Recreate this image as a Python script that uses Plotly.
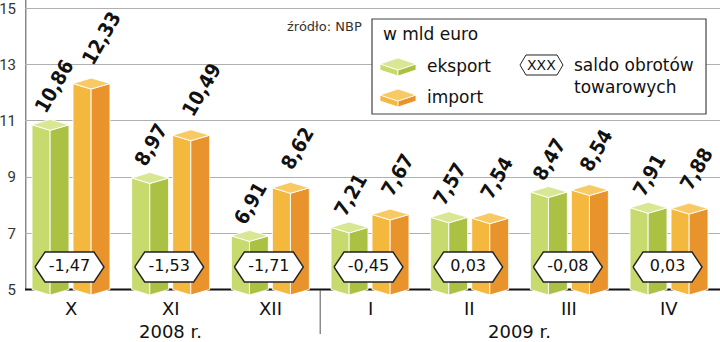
import plotly.graph_objects as go

# ---------------- data ----------------
months = ["X", "XI", "XII", "I", "II", "III", "IV"]
eksport = [10.86, 8.97, 6.91, 7.21, 7.57, 8.47, 7.91]
imports = [12.33, 10.49, 8.62, 7.67, 7.54, 8.54, 7.88]
saldo = [-1.47, -1.53, -1.71, -0.45, 0.03, -0.08, 0.03]
y_ticks = [5, 7, 9, 11, 13, 15]
year_labels = ["2008 r.", "2009 r."]
year_groups = [[0, 1, 2], [3, 4, 5, 6]]
legend_title = "w mld euro"
legend_names = ["eksport", "import"]
saldo_legend = ["saldo obrotów", "towarowych"]
source = "źródło: NBP"

# ---------------- geometry / style ----------------
W, H = 720, 342
ML, MR, MT, MB = 25, 0, 0, 42
PW, PH = W - ML - MR, H - MT - MB
PX_PER_X = 99.67
PX_PER_Y = 28.1
XL = -46.0 / PX_PER_X
XR = XL + PW / PX_PER_X
Y0 = 5 - 10.5 / PX_PER_Y
Y1 = Y0 + PH / PX_PER_Y
BASE = 5.0


def dx(p):
    return p / PX_PER_X


def dy(p):
    return p / PX_PER_Y


def fmt(v):
    return f"{v:.2f}".replace(".", ",")


EXP = dict(left="#c7da6e", right="#aac144", top="#d9e694")
IMP = dict(left="#f5b83f", right="#e8932b", top="#f8ca66")
FONT = "DejaVu Sans"

fig = go.Figure()

# baseline (black)
fig.add_trace(go.Scatter(x=[XL, XR], y=[BASE, BASE], mode="lines",
                         line=dict(color="#111", width=2.2),
                         hoverinfo="skip", showlegend=False))

TH = dy(5.5)  # half height of top rhombus


def prism_faces(xl, xr, val):
    xf = xl + (xr - xl) * 0.49
    left = [(xl, BASE), (xl, val), (xf, val - TH), (xf, BASE - TH), (xl, BASE)]
    right = [(xf, BASE - TH), (xf, val - TH), (xr, val), (xr, BASE), (xf, BASE - TH)]
    top = [(xl, val), (xf, val - TH), (xr, val), (xf, val + TH), (xl, val)]
    return left, right, top


def add_series(values, offs, cols):
    faces = {"left": ([], []), "right": ([], []), "top": ([], [])}
    for i, v in enumerate(values):
        xl, xr = i + dx(offs[0]), i + dx(offs[1])
        l, r, t = prism_faces(xl, xr, v)
        for key, poly in (("left", l), ("right", r), ("top", t)):
            xs, ys = faces[key]
            xs.extend([p[0] for p in poly] + [None])
            ys.extend([p[1] for p in poly] + [None])
    for key in ("left", "right", "top"):
        xs, ys = faces[key]
        fig.add_trace(go.Scatter(x=xs, y=ys, mode="lines", fill="toself",
                                 fillcolor=cols[key],
                                 line=dict(color="rgba(255,255,255,0.9)", width=1),
                                 hoverinfo="skip", showlegend=False))


EXP_OFF = (-39, -2)
IMP_OFF = (2, 39)
add_series(eksport, EXP_OFF, EXP)
add_series(imports, IMP_OFF, IMP)

# saldo hexagons
HEX_W, HEX_H, HEX_S = 69, 30, 10
HEX_Y = 5 + (289.5 - 267) / PX_PER_Y
hx, hy = [], []
for i in range(len(months)):
    cx = i - dx(1.5)
    pts = [(cx - dx(HEX_W / 2), HEX_Y),
           (cx - dx(HEX_W / 2 - HEX_S), HEX_Y + dy(HEX_H / 2)),
           (cx + dx(HEX_W / 2 - HEX_S), HEX_Y + dy(HEX_H / 2)),
           (cx + dx(HEX_W / 2), HEX_Y),
           (cx + dx(HEX_W / 2 - HEX_S), HEX_Y - dy(HEX_H / 2)),
           (cx - dx(HEX_W / 2 - HEX_S), HEX_Y - dy(HEX_H / 2)),
           (cx - dx(HEX_W / 2), HEX_Y)]
    hx.extend([p[0] for p in pts] + [None])
    hy.extend([p[1] for p in pts] + [None])
fig.add_trace(go.Scatter(x=hx, y=hy, mode="lines", fill="toself", fillcolor="white",
                         line=dict(color="#222", width=1.4),
                         hoverinfo="skip", showlegend=False))
fig.add_trace(go.Scatter(x=[i - dx(1.5) for i in range(len(months))],
                         y=[HEX_Y] * len(months), mode="text",
                         text=[fmt(s) for s in saldo],
                         textfont=dict(family=FONT, size=16, color="#111"),
                         hoverinfo="skip", showlegend=False))

annotations = []
# value labels (rotated)
for series, off, xo, yo in ((eksport, EXP_OFF[0], -5, 5), (imports, IMP_OFF[0], 1, 12)):
    for i, v in enumerate(series):
        annotations.append(dict(
            x=i + dx(off + xo), y=v + dy(yo), xref="x", yref="y",
            text=fmt(v), showarrow=False, textangle=-60,
            xanchor="left", yanchor="bottom",
            font=dict(family="DejaVu Sans Condensed, DejaVu Sans", size=20,
                      color="#111", weight="bold")))


def pxx(p):
    return (p - ML) / PW


def pxy(p):
    return (MT + PH - p) / PH


# month labels
for i, m in enumerate(months):
    annotations.append(dict(x=i, y=pxy(308), xref="x", yref="paper", text=m,
                            showarrow=False, xanchor="center", yanchor="middle",
                            font=dict(family=FONT, size=18, color="#111")))
for lab, grp in zip(year_labels, year_groups):
    annotations.append(dict(x=sum(grp) / len(grp), y=pxy(331), xref="x", yref="paper",
                            text=lab, showarrow=False, xanchor="center", yanchor="middle",
                            font=dict(family=FONT, size=18, color="#111")))

shapes = []
# y axis line
shapes.append(dict(type="line", xref="x", yref="y", x0=XL + dx(0.5), x1=XL + dx(0.5),
                   y0=BASE, y1=Y1, line=dict(color="#8a8a8a", width=2), layer="below"))
# year separator
shapes.append(dict(type="line", xref="x", yref="paper", x0=2.5, x1=2.5,
                   y0=pxy(290), y1=pxy(334), line=dict(color="#555", width=1)))

# legend box
shapes.append(dict(type="rect", xref="paper", yref="paper",
                   x0=pxx(372), x1=pxx(706), y0=pxy(114), y1=pxy(19),
                   fillcolor="white", line=dict(color="#444", width=1.2)))
annotations.append(dict(x=pxx(381), y=pxy(34), xref="paper", yref="paper",
                        text=legend_title, showarrow=False, xanchor="left", yanchor="middle",
                        font=dict(family=FONT, size=17, color="#111")))
annotations.append(dict(x=pxx(364), y=pxy(27), xref="paper", yref="paper",
                        text=source, showarrow=False, xanchor="right", yanchor="middle",
                        font=dict(family=FONT, size=13, color="#333")))


def path(points):
    s = "M " + " L ".join(f"{pxx(a):.5f},{pxy(b):.5f}" for a, b in points) + " Z"
    return s


for k, (name, cols) in enumerate(zip(legend_names, (EXP, IMP))):
    cy = 66 + 31 * k
    x0, xm, x1 = 380, 398, 416
    top = [(x0, cy - 2), (xm, cy - 8), (x1, cy - 2), (xm, cy + 4)]
    lf = [(x0, cy - 2), (xm, cy + 4), (xm, cy + 10), (x0, cy + 4)]
    rf = [(xm, cy + 4), (x1, cy - 2), (x1, cy + 4), (xm, cy + 10)]
    for poly, c in ((lf, cols["left"]), (rf, cols["right"]), (top, cols["top"])):
        shapes.append(dict(type="path", xref="paper", yref="paper", path=path(poly),
                           fillcolor=c, line=dict(color="white", width=0.8)))
    annotations.append(dict(x=pxx(425), y=pxy(cy), xref="paper", yref="paper",
                            text=name, showarrow=False, xanchor="left", yanchor="middle",
                            font=dict(family=FONT, size=17, color="#111")))

# legend hexagon XXX
hxc, hyc, hw, hh, hs = 541.5, 65, 43, 20, 6
hexp = [(hxc - hw / 2, hyc), (hxc - hw / 2 + hs, hyc - hh / 2), (hxc + hw / 2 - hs, hyc - hh / 2),
        (hxc + hw / 2, hyc), (hxc + hw / 2 - hs, hyc + hh / 2), (hxc - hw / 2 + hs, hyc + hh / 2)]
shapes.append(dict(type="path", xref="paper", yref="paper", path=path(hexp),
                   fillcolor="white", line=dict(color="#222", width=1)))
annotations.append(dict(x=pxx(hxc), y=pxy(hyc), xref="paper", yref="paper", text="XXX",
                        showarrow=False, xanchor="center", yanchor="middle",
                        font=dict(family=FONT, size=14, color="#111")))
for j, t in enumerate(saldo_legend):
    annotations.append(dict(x=pxx(572), y=pxy(65 + 22 * j), xref="paper", yref="paper",
                            text=t, showarrow=False, xanchor="left", yanchor="middle",
                            font=dict(family=FONT, size=17, color="#111")))

fig.update_layout(
    width=W, height=H,
    margin=dict(l=ML, r=MR, t=MT, b=MB, pad=0),
    paper_bgcolor="white", plot_bgcolor="white",
    showlegend=False,
    xaxis=dict(range=[XL, XR], visible=False, fixedrange=True),
    yaxis=dict(range=[Y0, Y1], tickvals=y_ticks, ticktext=[str(t) for t in y_ticks],
               showgrid=True, gridcolor="#b0b0b0", gridwidth=1, zeroline=False,
               showline=False, ticks="", ticklabelstandoff=8,
               ticklabeloverflow="allow",
               tickfont=dict(family="Roboto", size=15, color="#333"), fixedrange=True),
    annotations=annotations, shapes=shapes,
)

fig.write_html("out.html")
